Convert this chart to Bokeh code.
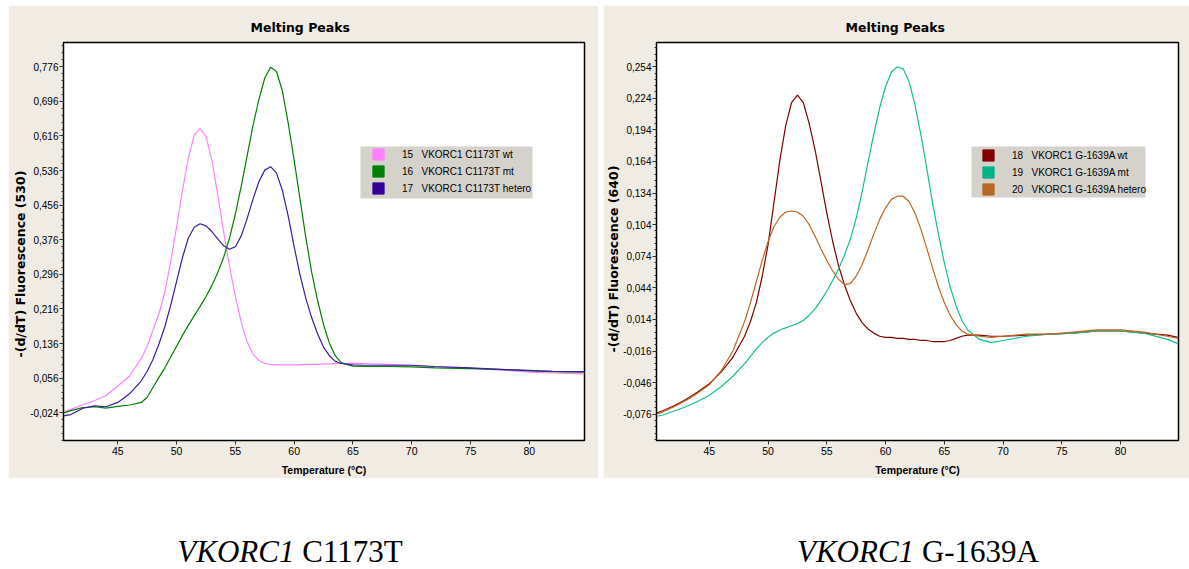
from bokeh.plotting import figure
from bokeh.models import (Range1d, FixedTicker, CustomJSTickFormatter, Legend, LegendItem,
                          BoxAnnotation, Div, Title, Spacer)
from bokeh.layouts import column, row
from bokeh.embed import file_html
from bokeh.resources import INLINE

# ---------------- data ----------------
T_LEFT = [40.4, 41, 42, 43, 44, 45, 46, 47, 47.5, 48, 48.5, 49, 49.5, 50, 50.5, 51, 51.5, 52,
          52.5, 53, 53.5, 54, 54.5, 55, 55.5, 56, 56.5, 57, 57.5, 58, 58.5, 59, 59.5, 60, 60.5,
          61, 61.5, 62, 62.5, 63, 63.5, 64, 65, 66, 68, 70, 72, 75, 78, 80, 82, 84.7]
C1173T_WT = [-0.022, -0.016, -0.006, 0.004, 0.016, 0.038, 0.061, 0.102, 0.13, 0.168, 0.205,
             0.255, 0.325, 0.405, 0.49, 0.565, 0.618, 0.633, 0.615, 0.56, 0.48, 0.395, 0.315,
             0.245, 0.185, 0.14, 0.112, 0.097, 0.09, 0.088, 0.087, 0.087, 0.087, 0.087, 0.087,
             0.088, 0.088, 0.088, 0.089, 0.089, 0.09, 0.09, 0.091, 0.09, 0.088, 0.085, 0.082,
             0.079, 0.074, 0.07, 0.068, 0.066]
C1173T_MT = [-0.024, -0.019, -0.012, -0.010, -0.013, -0.009, -0.006, 0.000, 0.012, 0.035, 0.058,
             0.08, 0.105, 0.13, 0.155, 0.178, 0.2, 0.222, 0.245, 0.27, 0.3, 0.335, 0.38, 0.435,
             0.5, 0.57, 0.64, 0.7, 0.75, 0.775, 0.765, 0.72, 0.645, 0.56, 0.47, 0.38, 0.3, 0.235,
             0.18, 0.137, 0.108, 0.092, 0.084, 0.083, 0.083, 0.082, 0.08, 0.078, 0.076, 0.073,
             0.071, 0.07]
C1173T_HET = [-0.031, -0.028, -0.014, -0.008, -0.010, 0.000, 0.02, 0.05, 0.072, 0.1, 0.135,
              0.175, 0.225, 0.28, 0.335, 0.38, 0.405, 0.413, 0.408, 0.395, 0.378, 0.362, 0.354,
              0.36, 0.385, 0.425, 0.47, 0.51, 0.537, 0.545, 0.53, 0.49, 0.43, 0.36, 0.295, 0.24,
              0.195, 0.158, 0.128, 0.108, 0.095, 0.09, 0.087, 0.086, 0.086, 0.086, 0.083, 0.08,
              0.076, 0.074, 0.072, 0.071]

T_RIGHT = [40.5, 41, 42, 43, 44, 45, 46, 47, 48, 48.5, 49, 49.5, 50, 50.5, 51, 51.5, 52, 52.5,
           53, 53.5, 54, 54.5, 55, 55.5, 56, 56.5, 57, 57.5, 58, 58.5, 59, 59.5, 60, 60.5, 61,
           61.5, 62, 62.5, 63, 63.5, 64, 64.5, 65, 65.5, 66, 66.5, 67, 68, 69, 70, 72, 74, 76,
           78, 80, 82, 84, 84.9]
G1639A_WT = [-0.075, -0.073, -0.068, -0.062, -0.055, -0.047, -0.036, -0.022, -0.002, 0.012,
             0.03, 0.055, 0.085, 0.125, 0.165, 0.198, 0.22, 0.227, 0.22, 0.2, 0.175, 0.145,
             0.115, 0.088, 0.065, 0.047, 0.032, 0.02, 0.011, 0.005, 0.001, -0.002, -0.003,
             -0.003, -0.004, -0.004, -0.005, -0.005, -0.006, -0.006, -0.007, -0.007, -0.007,
             -0.006, -0.004, -0.002, -0.001, -0.001, -0.002, -0.002, -0.001, 0.0, 0.001, 0.003,
             0.003, 0.001, -0.001, -0.003]
G1639A_MT = [-0.078, -0.077, -0.073, -0.069, -0.064, -0.058, -0.05, -0.04, -0.028, -0.021,
             -0.014, -0.008, -0.003, 0.001, 0.004, 0.006, 0.008, 0.01, 0.013, 0.018, 0.024,
             0.032, 0.041, 0.051, 0.062, 0.075, 0.09, 0.11, 0.135, 0.163, 0.19, 0.215, 0.235,
             0.249, 0.254, 0.252, 0.24, 0.218, 0.19, 0.158, 0.125, 0.095, 0.068, 0.045, 0.027,
             0.013, 0.004, -0.005, -0.008, -0.006, -0.002, 0.0, 0.001, 0.003, 0.003, 0.001,
             -0.005, -0.009]
G1639A_HET = [-0.076, -0.074, -0.069, -0.063, -0.056, -0.048, -0.035, -0.016, 0.012, 0.03,
              0.05, 0.07, 0.088, 0.102, 0.111, 0.116, 0.117, 0.116, 0.112, 0.104, 0.093, 0.081,
              0.07, 0.06, 0.052, 0.047, 0.048, 0.055, 0.066, 0.08, 0.095, 0.109, 0.12, 0.128,
              0.131, 0.131, 0.126, 0.115, 0.1, 0.082, 0.063, 0.045, 0.03, 0.018, 0.009, 0.003,
              0.0, -0.002, -0.003, -0.002, 0.0, 0.0, 0.002, 0.004, 0.004, 0.002, -0.002, -0.004]

LABELS_LEFT = ["15   VKORC1 C1173T wt", "16   VKORC1 C1173T mt", "17   VKORC1 C1173T hetero"]
LABELS_RIGHT = ["18   VKORC1 G-1639A wt", "19   VKORC1 G-1639A mt", "20   VKORC1 G-1639A hetero"]
COLORS_LEFT = ["#ff80ff", "#008000", "#3a1ca8"]
COLORS_RIGHT = ["#800000", "#12bf90", "#c0661c"]
SWATCH_LEFT = ["#ff80ff", "#008000", "#330099"]
SWATCH_RIGHT = ["#800000", "#00b386", "#b8691f"]

X_TICKS = [45, 50, 55, 60, 65, 70, 75, 80]
Y_TICKS_LEFT = [-0.024, 0.056, 0.136, 0.216, 0.296, 0.376, 0.456, 0.536, 0.616, 0.696, 0.776]
Y_TICKS_RIGHT = [-0.076, -0.046, -0.016, 0.014, 0.044, 0.074, 0.104, 0.134, 0.164, 0.194, 0.224, 0.254]

TITLE = "Melting Peaks"
XLABEL = "Temperature (\u00b0C)"
YLABEL_LEFT = "-(d/dT) Fluorescence (530)"
YLABEL_RIGHT = "-(d/dT) Fluorescence (640)"

BEIGE = "#f0ebe3"
LEG_BG = "#d5d2cc"
NAN = float("nan")


def minor_list(major, step):
    out = []
    lo, hi = major[0] - step, major[-1] + step
    v = lo
    while v <= hi + 1e-9:
        out.append(round(v, 4))
        v += step / 5
    return out


def make_panel(width, bl, br, xr, yr, yticks, ystep, ylabel, t, series, colors, swatches,
               labels, title_off, ylabel_off, leg_xy, leg_box, leg_std):
    p = figure(width=width, height=473, output_backend="svg", toolbar_location=None,
               x_range=Range1d(*xr), y_range=Range1d(*yr),
               min_border_left=bl, min_border_right=br, min_border_top=37, min_border_bottom=35)
    p.border_fill_color = BEIGE
    p.background_fill_color = "white"
    p.outline_line_color = "black"
    p.outline_line_width = 1.5
    p.grid.visible = False

    p.title.text = TITLE
    p.title.align = "left"
    p.title.offset = title_off
    p.title.standoff = 16
    p.title.text_font = "DejaVu Sans"
    p.title.text_font_style = "bold"
    p.title.text_font_size = "12.5px"
    p.title.text_color = "black"

    xa = p.xaxis[0]
    xa.ticker = FixedTicker(ticks=X_TICKS, minor_ticks=[])
    xa.axis_label = XLABEL
    ya = p.yaxis[0]
    ya.ticker = FixedTicker(ticks=yticks, minor_ticks=minor_list(yticks, ystep))
    ya.formatter = CustomJSTickFormatter(code="return tick.toFixed(3).replace('.', ',');")
    for ax in (xa, ya):
        ax.axis_line_color = "black"
        ax.major_tick_line_color = "#333333"
        ax.minor_tick_line_color = "#333333"
        ax.major_tick_out = 4
        ax.major_tick_in = 0
        ax.minor_tick_out = 2
        ax.minor_tick_in = 0
        ax.major_label_text_font = "Liberation Sans"
        ax.major_label_text_color = "black"
    xa.major_label_standoff = 2
    ya.major_label_standoff = 1
    xa.major_label_text_font_size = "10.5px"
    ya.major_label_text_font_size = "10px"
    xa.axis_label_text_font = "Liberation Sans"
    xa.axis_label_text_font_style = "bold"
    xa.axis_label_text_font_size = "10.5px"
    xa.axis_label_text_color = "black"
    xa.axis_label_standoff = 6

    # vertical y-axis label as a side title
    p.add_layout(Title(text=ylabel, align="left", offset=ylabel_off, standoff=0,
                       text_font="DejaVu Sans", text_font_style="bold",
                       text_font_size="12.5px", text_color="black"), "left")

    for s, c in zip(series, colors):
        p.line(t, s, line_color=c, line_width=1.2)

    # legend background box
    p.add_layout(BoxAnnotation(left=leg_box[0], right=leg_box[1], bottom=leg_box[2], top=leg_box[3],
                               left_units="screen", right_units="screen",
                               bottom_units="screen", top_units="screen",
                               fill_color=LEG_BG, fill_alpha=1.0, line_color=None))
    items = []
    for lab, c in zip(labels, swatches):
        r = p.quad(left=[NAN], right=[NAN], top=[NAN], bottom=[NAN], fill_color=c, line_color=c)
        items.append(LegendItem(label=lab, renderers=[r], index=0))
    leg = Legend(items=items, location=leg_xy, orientation="vertical",
                 glyph_width=14, glyph_height=14, label_height=14, spacing=3, padding=0,
                 margin=0, label_standoff=leg_std, label_text_font="Liberation Sans",
                 label_text_font_size="10px", label_text_color="black",
                 background_fill_alpha=0, border_line_color=None)
    p.add_layout(leg)
    return p


# left frame: x 63..584, y 42..443 (page); right frame: x 656..1178
p1 = make_panel(590, 55, 14, (40.38, 84.7), (-0.088, 0.832), Y_TICKS_LEFT, 0.08, YLABEL_LEFT,
                T_LEFT, [C1173T_WT, C1173T_MT, C1173T_HET], COLORS_LEFT, SWATCH_LEFT,
                LABELS_LEFT, 187, 83, (308, 245), (297, 469, 242, 294), 17)
p2 = make_panel(586, 53, 11, (40.5, 84.94), (-0.101, 0.277), Y_TICKS_RIGHT, 0.03, YLABEL_RIGHT,
                T_RIGHT, [G1639A_WT, G1639A_MT, G1639A_HET], COLORS_RIGHT, SWATCH_RIGHT,
                LABELS_RIGHT, 189, 88, (325, 244), (315, 489, 243, 294), 17)

caption = Div(width=1189, height=90, text=(
    '<div style="position:relative;width:1189px;height:90px;font-family:\'Liberation Serif\';'
    'font-size:31px;color:black;line-height:34px;">'
    '<span style="position:absolute;left:285px;top:52px;transform:translateX(-50%);white-space:nowrap;">'
    '<i>VKORC1</i> C1173T</span>'
    '<span style="position:absolute;left:913px;top:52px;transform:translateX(-50%);white-space:nowrap;">'
    '<i>VKORC1</i> G-1639A</span></div>'))

top = row(Spacer(width=8, height=473), p1, Spacer(width=5, height=473), p2, spacing=0)
layout = column(Spacer(width=1189, height=5), top, caption, spacing=0)
open("out.html", "w").write(file_html(layout, INLINE))
